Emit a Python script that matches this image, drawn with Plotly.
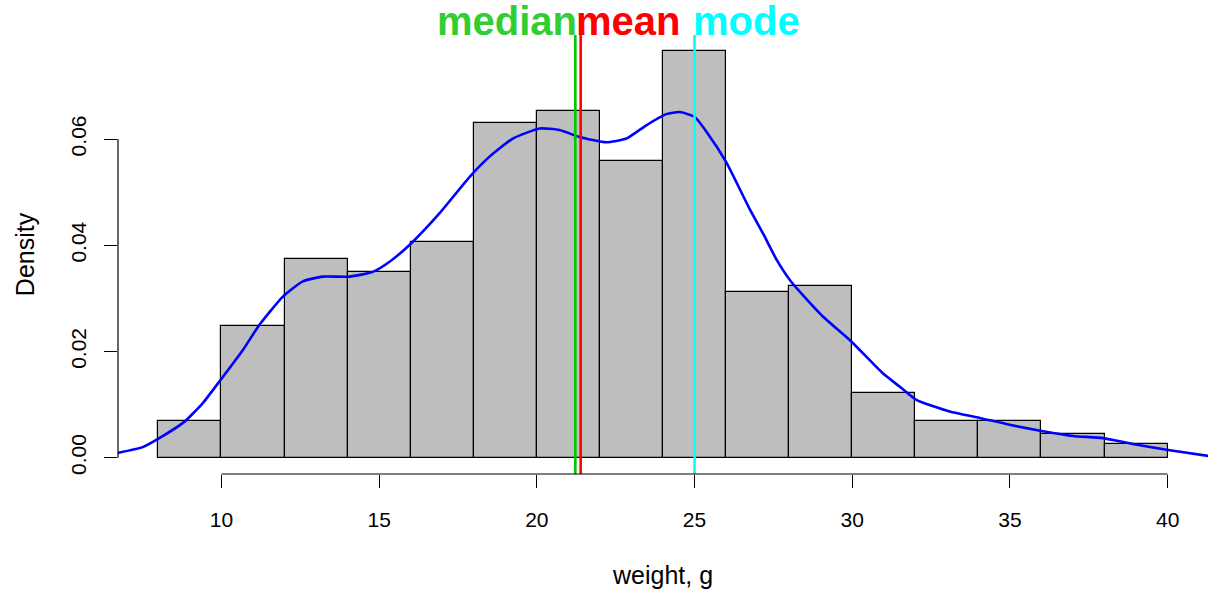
import plotly.graph_objects as go

# Histogram (density scale), bins of width 2
bin_left = [8, 10, 12, 14, 16, 18, 20, 22, 24, 26, 28, 30, 32, 34, 36, 38]
bin_density = [0.0070, 0.0248, 0.0374, 0.0349, 0.0407, 0.0630, 0.0653, 0.0559,
               0.0765, 0.0312, 0.0324, 0.0122, 0.0070, 0.0070, 0.0045, 0.0025]
bin_width = 2

# Kernel density estimate
dens_x = [6.70, 7.50, 8.03, 8.83, 9.41, 9.94, 10.68, 11.20, 11.94, 12.58, 13.21,
          14.06, 14.80, 15.33, 16.02, 16.91, 17.87, 18.50, 19.24, 20.09, 20.72,
          21.35, 22.20, 22.84, 23.47, 24.10, 24.53, 25.00, 25.40, 26.00, 26.75,
          27.20, 27.60, 28.07, 29.07, 29.97, 30.97, 31.50, 32.03, 33.09, 34.04,
          34.99, 36.05, 37.00, 37.95, 38.90, 40.07, 41.33]
dens_y = [0.0009, 0.0020, 0.0037, 0.0068, 0.0103, 0.0144, 0.0203, 0.0250, 0.0303,
          0.0332, 0.0341, 0.0341, 0.0350, 0.0369, 0.0404, 0.0460, 0.0529, 0.0567,
          0.0601, 0.0620, 0.0617, 0.0604, 0.0594, 0.0601, 0.0626, 0.0647, 0.0651,
          0.0642, 0.0612, 0.0557, 0.0468, 0.0419, 0.0373, 0.0331, 0.0266, 0.0219,
          0.0159, 0.0134, 0.0109, 0.0087, 0.0075, 0.0062, 0.0050, 0.0041, 0.0037,
          0.0026, 0.0014, 0.0003]

median_val = 21.22
mean_val = 21.39
mode_val = 25.0

x_ticks = [10, 15, 20, 25, 30, 35, 40]
y_ticks = [0.0, 0.02, 0.04, 0.06]
y_ticktext = ["0.00", "0.02", "0.04", "0.06"]

FONT = "Liberation Sans, Arial, sans-serif"

fig = go.Figure()
fig.add_trace(go.Bar(
    x=[b + bin_width / 2 for b in bin_left], y=bin_density, width=bin_width,
    marker=dict(color="#BEBEBE", line=dict(color="black", width=1.2)),
    showlegend=False, hoverinfo="skip"))
fig.add_trace(go.Scatter(
    x=dens_x, y=dens_y, mode="lines",
    line=dict(color="#0000FF", width=2.6, shape="spline", smoothing=0.5),
    showlegend=False))

for val, col in [(median_val, "#00C800"), (mean_val, "#FF0000"), (mode_val, "#00FFFF")]:
    fig.add_shape(type="line", xref="x", yref="paper", x0=val, x1=val, y0=0, y1=1,
                  line=dict(color=col, width=2.6), layer="above")

# axis lines (R style, only spanning tick range)
fig.add_shape(type="line", xref="x", yref="paper", x0=x_ticks[0], x1=x_ticks[-1],
              y0=0, y1=0, line=dict(color="black", width=1.2))
fig.add_shape(type="line", xref="paper", yref="y", x0=0, x1=0,
              y0=y_ticks[0], y1=y_ticks[-1], line=dict(color="black", width=1.2))

labels = [("median", median_val, "right", "#32CD32", 4),
          ("mean", mean_val, "left", "#FF0000", -7),
          ("mode", mode_val, "left", "#00FFFF", -4)]
for txt, val, anc, col, shift in labels:
    fig.add_annotation(text="<b>%s</b>" % txt, x=val, xref="x", y=1, yref="paper",
                       xanchor=anc, yanchor="bottom", showarrow=False, yshift=-10,
                       xshift=shift,
                       font=dict(family=FONT, size=40, color=col))

fig.update_layout(
    width=1214, height=592,
    margin=dict(l=118, r=6, t=35, b=118),
    plot_bgcolor="white", paper_bgcolor="white",
    font=dict(family=FONT, size=21, color="black"),
    bargap=0,
    xaxis=dict(range=[6.72, 41.28], tickvals=x_ticks, ticks="outside", ticklen=13,
               tickwidth=1.2, tickcolor="black", showgrid=False, zeroline=False,
               showline=False, ticklabelstandoff=14,
               title=dict(text="weight, g", standoff=36)),
    yaxis=dict(range=[-0.00306, 0.0796], tickvals=y_ticks, ticktext=y_ticktext,
               tickangle=-90, ticks="outside", ticklen=13, tickwidth=1.2,
               tickcolor="black", showgrid=False, zeroline=False, showline=False,
               ticklabelstandoff=10,
               title=dict(text="Density", standoff=24)),
)

fig.write_html("out.html")
